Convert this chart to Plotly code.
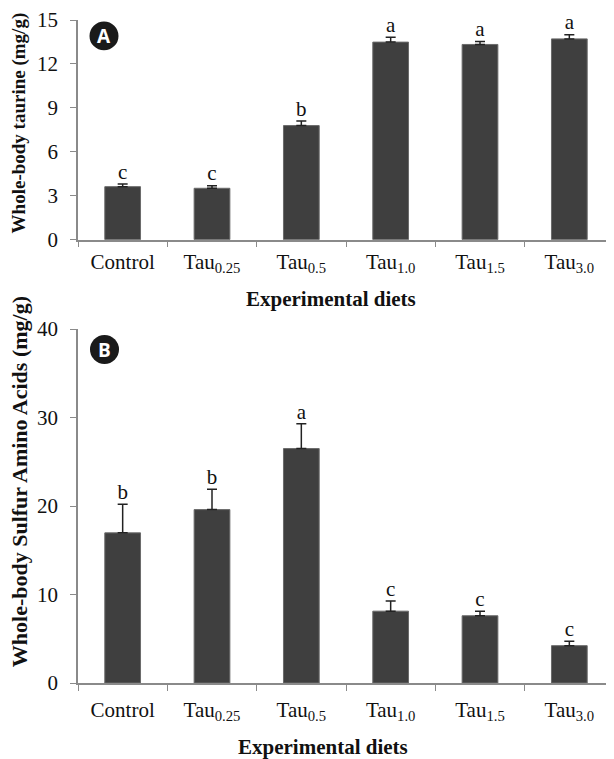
import plotly.graph_objects as go
from plotly.subplots import make_subplots

categories = ["Control", "Tau<sub>0.25</sub>", "Tau<sub>0.5</sub>", "Tau<sub>1.0</sub>",
              "Tau<sub>1.5</sub>", "Tau<sub>3.0</sub>"]
taurine_mean = [3.62, 3.51, 7.79, 13.49, 13.33, 13.71]
taurine_err = [0.18, 0.18, 0.31, 0.34, 0.20, 0.29]
taurine_letters = ["c", "c", "b", "a", "a", "a"]
saa_mean = [16.97, 19.6, 26.5, 8.12, 7.6, 4.22]
saa_err = [3.23, 2.3, 2.8, 1.16, 0.52, 0.5]
saa_letters = ["b", "b", "a", "c", "c", "c"]

# page has an 8px body margin; work in page pixels and convert
OFF = 8
PAGE_W, PAGE_H = 614, 759
W, H = PAGE_W - OFF, PAGE_H - OFF
AX_L, AX_T, AX_B = 78, 16, 683          # page pixels of plot area
ML, MT = AX_L - OFF, AX_T - OFF
MR, MB = 0, PAGE_H - AX_B
PW, PH = W - ML - MR, H - MT - MB

def py(pix):
    return (AX_B - pix) / PH

def px(pix):
    return (pix - AX_L) / PW

fig = make_subplots(rows=2, cols=1, shared_xaxes=False, vertical_spacing=0.0)

BAR_COLOR = "#3f3f3f"
SERIF = "Liberation Serif"

for row, means, errs, letters in [(1, taurine_mean, taurine_err, taurine_letters),
                                   (2, saa_mean, saa_err, saa_letters)]:
    fig.add_trace(go.Bar(
        x=categories, y=means,
        marker=dict(color=BAR_COLOR, line=dict(color="#6a6a6a", width=1)),
        error_y=dict(type="data", symmetric=False, array=errs,
                     arrayminus=[0] * len(errs), color="#222222",
                     thickness=1.5, width=5),
        showlegend=False, hoverinfo="skip"), row=row, col=1)
    fig.add_trace(go.Scatter(
        x=categories, y=[m + e for m, e in zip(means, errs)],
        mode="text", text=letters, textposition="top center", cliponaxis=False,
        textfont=dict(family=SERIF, size=21, color="#111111"),
        showlegend=False, hoverinfo="skip"), row=row, col=1)

axis_common = dict(showline=True, linecolor="#8a8a8a", linewidth=1.5,
                   ticks="outside", tickcolor="#8a8a8a", ticklen=6, tickwidth=1.2,
                   showgrid=False, zeroline=False,
                   tickfont=dict(family=SERIF, size=21, color="#111111"))

fig.update_layout(
    width=W, height=H, margin=dict(l=ML, r=MR, t=MT, b=MB),
    paper_bgcolor="white", plot_bgcolor="white", bargap=0.6,
    xaxis=dict(domain=[0, 1], anchor="y", tickson="boundaries",
               ticklabelstandoff=2, **axis_common),
    xaxis2=dict(domain=[0, 1], anchor="y2", tickson="boundaries",
                ticklabelstandoff=7, **axis_common),
    yaxis=dict(domain=[py(237), 1], range=[0, 15], dtick=3, anchor="x",
               ticklabelstandoff=8, **axis_common),
    yaxis2=dict(domain=[0, py(327)], range=[0, 40], dtick=10, anchor="x2",
                ticklabelstandoff=8, **axis_common),
)

title_font = dict(family=SERIF, size=21, color="#111111")
annotations = [
    dict(text="<b>Experimental diets</b>", x=px(331), y=py(297), font=title_font),
    dict(text="<b>Experimental diets</b>", x=px(323), y=py(747), font=title_font),
    dict(text="<b>Whole-body taurine (mg/g)</b>", x=px(19), y=py(120), textangle=-90,
         font=dict(family=SERIF, size=19, color="#111111")),
    dict(text="<b>Whole-body Sulfur Amino Acids (mg/g)</b>", x=px(19), y=py(481),
         textangle=-90, font=dict(family=SERIF, size=22, color="#111111")),
]
for a in annotations:
    a.update(xref="paper", yref="paper", showarrow=False, xanchor="center", yanchor="middle")
    fig.add_annotation(**a)

# panel badges
for label, cx, cy in [("A", 104, 32), ("B", 104.5, 347.5)]:
    r = 14.5
    fig.add_shape(type="circle", xref="paper", yref="paper",
                  x0=px(cx - r), x1=px(cx + r), y0=py(cy + r), y1=py(cy - r),
                  fillcolor="#1a1a1a", line=dict(width=0))
    fig.add_annotation(text="<b>%s</b>" % label, xref="paper", yref="paper",
                       x=px(cx), y=py(cy), showarrow=False,
                       font=dict(family="Open Sans", size=19, color="white"),
                       xanchor="center", yanchor="middle")

fig.write_html("out.html")
